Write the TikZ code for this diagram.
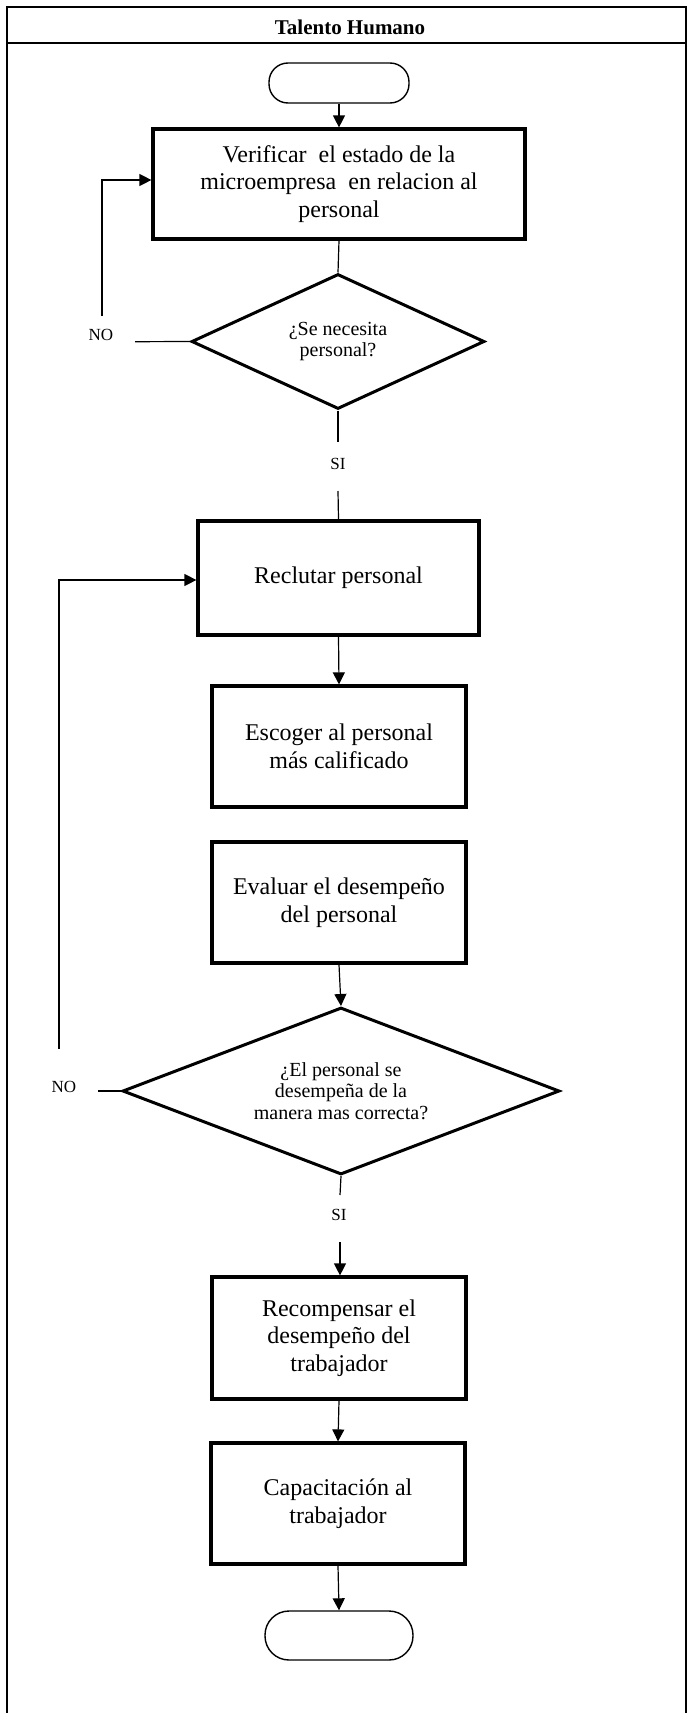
\documentclass[tikz,border=0pt]{standalone}
\usepackage{fontspec}
\setmainfont{Liberation Serif}
\usetikzlibrary{shapes.geometric,arrows.meta,calc}
\begin{document}
\begin{tikzpicture}[x=0.5pt,y=-0.5pt,
  box/.style={draw,line width=1.6pt,align=center,font=\fontsize{12}{13.8}\selectfont,inner sep=2pt,minimum width=127pt,minimum height=60.5pt},
  dec/.style={draw,diamond,line width=1.5pt,align=center,font=\fontsize{10}{10.6}\selectfont,inner sep=0pt},
  term/.style={draw,line width=0.7pt,rounded corners=#1},
  conn/.style={line width=0.6pt},
  arr/.style={conn,-{Triangle[length=6pt,width=6pt]}},
  lbl/.style={font=\fontsize{8.5}{9}\selectfont,inner sep=1pt}
]
\useasboundingbox (0,0) rectangle (687,1713);
% frame
\draw[line width=0.9pt] (6.6,1713) -- (6.6,7.3) -- (686,7.3) -- (686,1713);
\draw[line width=1pt] (6.6,43.3) -- (686,43.3);
\node[font=\bfseries\fontsize{10.5}{12}\selectfont] (title) at (350,27) {Talento Humano};

% nodes
\node[term=9.5pt,minimum width=70pt,minimum height=20pt] (start) at (339,83) {};
\node[box,minimum width=186pt,minimum height=55pt] (b1) at (339,184)
  {Verificar\ \ el estado de la\\ microempresa\ \ en relacion al\\ personal};
\node[dec,minimum width=146.5pt,minimum height=67.5pt,shape aspect=2.2] (d1) at (338,341.5)
  {¿Se necesita\\ personal?};
\node[box,minimum width=140.5pt,minimum height=57pt] (b2) at (338.5,578) {Reclutar personal};
\node[box] (b3) at (339,746.5) {Escoger al personal\\ más calificado};
\node[box] (b4) at (339,902.5) {Evaluar el desempeño\\ del personal};
\node[dec,minimum width=218.5pt,minimum height=83.5pt,shape aspect=2.6] (d2) at (341,1091)
  {¿El personal se\\ desempeña de la\\ manera mas correcta?};
\node[box,minimum height=61pt] (b5) at (339,1338) {Recompensar el\\ desempeño del\\ trabajador};
\node[box] (b6) at (338,1503.5) {Capacitación al\\ trabajador};
\node[term=12pt,minimum width=74pt,minimum height=24.5pt] (end) at (339,1635.5) {};

% labels and free ends
\coordinate (si1a) at (338,442);
\node[lbl] (si1) at (338,464) {SI};
\coordinate (si1b) at (338,491);
\coordinate (no1a) at (135,341.7);
\node[lbl] (no1) at (101,335) {NO};
\coordinate (no1b) at (102,316);
\coordinate (no1c) at (102,180);

\coordinate (si2a) at (340,1195);
\node[lbl] (si2) at (339,1215) {SI};
\coordinate (si2b) at (340,1242);
\coordinate (no2a) at (98,1091);
\node[lbl] (no2) at (64,1087) {NO};
\coordinate (no2b) at (59,1049);
\coordinate (no2c) at (59,580);

% connectors
\draw[arr] (start.south) -- (start.south |- b1.north);
\draw[conn] (b1.south) -- (d1.north);
\draw[conn] (d1.south) -- (si1a);
\draw[conn] (si1b) -- (b2.north);
\draw[conn] (d1.west) -- (no1a);
\draw[arr] (no1b) -- (no1c) -- (b1.west |- no1c);
\draw[arr] (b2.south) -- (b3.north);
\draw[arr] (b4.south) -- (d2.north);
\draw[conn] (d2.south) -- (si2a);
\draw[arr] (si2b) -- (si2b |- b5.north);
\draw[conn] (d2.west) -- (no2a);
\draw[arr] (no2b) -- (no2c) -- (b2.west |- no2c);
\draw[arr] (b5.south) -- (b6.north);
\draw[arr] (b6.south) -- (end.north);
\end{tikzpicture}
\end{document}
